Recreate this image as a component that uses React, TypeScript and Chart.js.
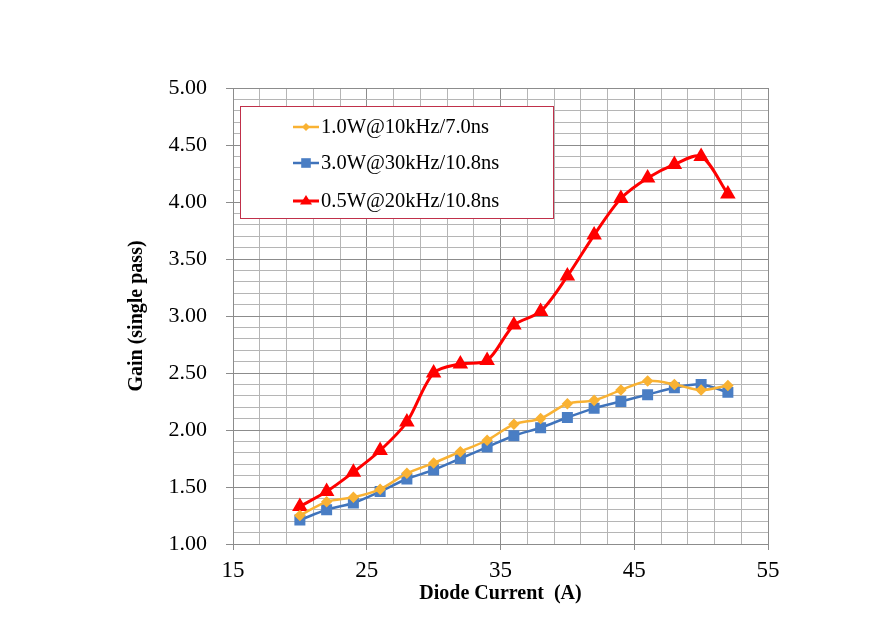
import React, { useEffect, useRef } from "react";
import { Chart, registerables } from "chart.js";

Chart.register(...registerables);

const current = [20, 22, 24, 26, 28, 30, 32, 34, 36, 38, 40, 42, 44, 46, 48, 50, 52];
const gain1W10k = [1.25, 1.37, 1.41, 1.48, 1.62, 1.71, 1.81, 1.91, 2.05, 2.1, 2.23, 2.26, 2.35, 2.43, 2.4, 2.35, 2.39];
const gain3W30k = [1.21, 1.3, 1.36, 1.46, 1.57, 1.65, 1.75, 1.85, 1.95, 2.02, 2.11, 2.19, 2.25, 2.31, 2.37, 2.4, 2.33];
const gain05W20k = [1.33, 1.46, 1.63, 1.82, 2.07, 2.5, 2.58, 2.61, 2.92, 3.04, 3.35, 3.71, 4.03, 4.21, 4.33, 4.4, 4.07];
const seriesNames = ["1.0W@10kHz/7.0ns", "3.0W@30kHz/10.8ns", "0.5W@20kHz/10.8ns"];
const xTitle = "Diode Current  (A)";
const yTitle = "Gain (single pass)";

const toPts = (ys: number[]) => ys.map((y, i) => ({ x: current[i], y }));

const legendPlugin = {
  id: "boxLegend",
  afterDraw(chart: any) {
    const ctx = chart.ctx;
    const area = chart.chartArea;
    const x0 = area.left + 7;
    const y0 = area.top + 18;
    const w = 313;
    const h = 112;
    ctx.save();
    ctx.fillStyle = "#ffffff";
    ctx.fillRect(x0, y0, w, h);
    ctx.strokeStyle = "#C0304A";
    ctx.lineWidth = 1;
    ctx.strokeRect(x0 + 0.5, y0 + 0.5, w, h);
    const rows = [21, 57, 95];
    chart.data.datasets.forEach((ds: any, i: number) => {
      const cy = y0 + rows[i];
      const lx1 = x0 + 53;
      const lx2 = x0 + 79;
      ctx.strokeStyle = ds.borderColor;
      ctx.lineWidth = ds.borderWidth;
      ctx.beginPath();
      ctx.moveTo(lx1, cy);
      ctx.lineTo(lx2, cy);
      ctx.stroke();
      const mx = (lx1 + lx2) / 2;
      ctx.fillStyle = ds.pointBackgroundColor;
      const r = ds.pointRadius;
      ctx.beginPath();
      if (ds.pointStyle === "rectRot") {
        ctx.moveTo(mx, cy - r);
        ctx.lineTo(mx + r, cy);
        ctx.lineTo(mx, cy + r);
        ctx.lineTo(mx - r, cy);
        ctx.closePath();
      } else if (ds.pointStyle === "rect") {
        ctx.rect(mx - r * 0.8, cy - r * 0.8, r * 1.6, r * 1.6);
      } else {
        ctx.moveTo(mx, cy - r);
        ctx.lineTo(mx + r, cy + r * 0.6);
        ctx.lineTo(mx - r, cy + r * 0.6);
        ctx.closePath();
      }
      ctx.fill();
      ctx.fillStyle = "#000000";
      ctx.font = '20.5px "Liberation Serif", "Times New Roman", serif';
      ctx.textBaseline = "middle";
      ctx.textAlign = "left";
      ctx.fillText(ds.label, lx2 + 2, cy + 1);
    });
    ctx.restore();
  },
};

export default function App() {
  const ref = useRef<HTMLCanvasElement>(null);
  useEffect(() => {
    document.body.style.margin = "0";
    const serif = '"Liberation Serif", "Times New Roman", serif';
    const majorY = (v: number) => Math.abs(Math.round(v * 10) % 5) === 0;
    const majorX = (v: number) => Math.round(v - 15) % 10 === 0;
    const chart = new Chart(ref.current!, {
      type: "line",
      data: {
        datasets: [
          {
            label: seriesNames[0],
            data: toPts(gain1W10k),
            borderColor: "#F9B233",
            backgroundColor: "#F9B233",
            pointBackgroundColor: "#F9B233",
            pointBorderColor: "#F9B233",
            pointStyle: "rectRot",
            pointRadius: 4,
            borderWidth: 2.5,
            tension: 0.3,
          },
          {
            label: seriesNames[1],
            data: toPts(gain3W30k),
            borderColor: "#3F73BB",
            backgroundColor: "#4A7EC4",
            pointBackgroundColor: "#4A7EC4",
            pointBorderColor: "#4A7EC4",
            pointStyle: "rect",
            pointRadius: 6,
            borderWidth: 2.5,
            tension: 0.3,
          },
          {
            label: seriesNames[2],
            data: toPts(gain05W20k),
            borderColor: "#FF0000",
            backgroundColor: "#FF0000",
            pointBackgroundColor: "#FF0000",
            pointBorderColor: "#FF0000",
            pointStyle: "triangle",
            pointRadius: 6,
            borderWidth: 3,
            tension: 0.3,
          },
        ] as any,
      },
      options: {
        animation: false,
        responsive: false,
        layout: { padding: { left: 125, top: 88, right: 113, bottom: 36 } },
        plugins: { legend: { display: false }, tooltip: { enabled: false } },
        scales: {
          x: {
            type: "linear",
            min: 15,
            max: 55,
            afterFit: (s: any) => {
              s.height = 62;
            },
            ticks: {
              stepSize: 2,
              autoSkip: false,
              maxRotation: 0,
              padding: 7,
              color: "#000",
              font: { family: serif, size: 23 },
              callback: (v: any) => (majorX(Number(v)) ? String(v) : ""),
            },
            grid: {
              color: (c: any) => (majorX(c.tick.value) ? "#8c8c8c" : "#b5b5b5"),
              tickColor: (c: any) => (majorX(c.tick.value) ? "#8c8c8c" : "rgba(0,0,0,0)"),
              tickLength: 6,
              lineWidth: 1,
            },
            border: { color: "#8c8c8c" },
            title: {
              display: true,
              text: xTitle,
              color: "#000",
              font: { family: serif, size: 20, weight: "bold" },
              padding: 0,
            },
          },
          y: {
            type: "linear",
            min: 1,
            max: 5,
            afterFit: (s: any) => {
              s.width = 108;
            },
            ticks: {
              stepSize: 0.1,
              autoSkip: false,
              maxTicksLimit: 100,
              padding: 19,
              color: "#000",
              font: { family: serif, size: 22 },
              callback: (v: any) => (majorY(Number(v)) ? Number(v).toFixed(2) : ""),
            },
            grid: {
              color: (c: any) => (majorY(c.tick.value) ? "#8c8c8c" : "#b5b5b5"),
              tickColor: (c: any) => (majorY(c.tick.value) ? "#8c8c8c" : "rgba(0,0,0,0)"),
              tickLength: 7,
              lineWidth: 1,
            },
            border: { color: "#8c8c8c" },
            title: {
              display: true,
              text: yTitle,
              color: "#000",
              font: { family: serif, size: 20, weight: "bold" },
              padding: 0,
            },
          },
        },
      } as any,
      plugins: [legendPlugin],
    });
    return () => chart.destroy();
  }, []);
  return (
    <div style={{ width: 881, height: 642, background: "#fff" }}>
      <canvas ref={ref} width={881} height={642} style={{ display: "block" }} />
    </div>
  );
}
